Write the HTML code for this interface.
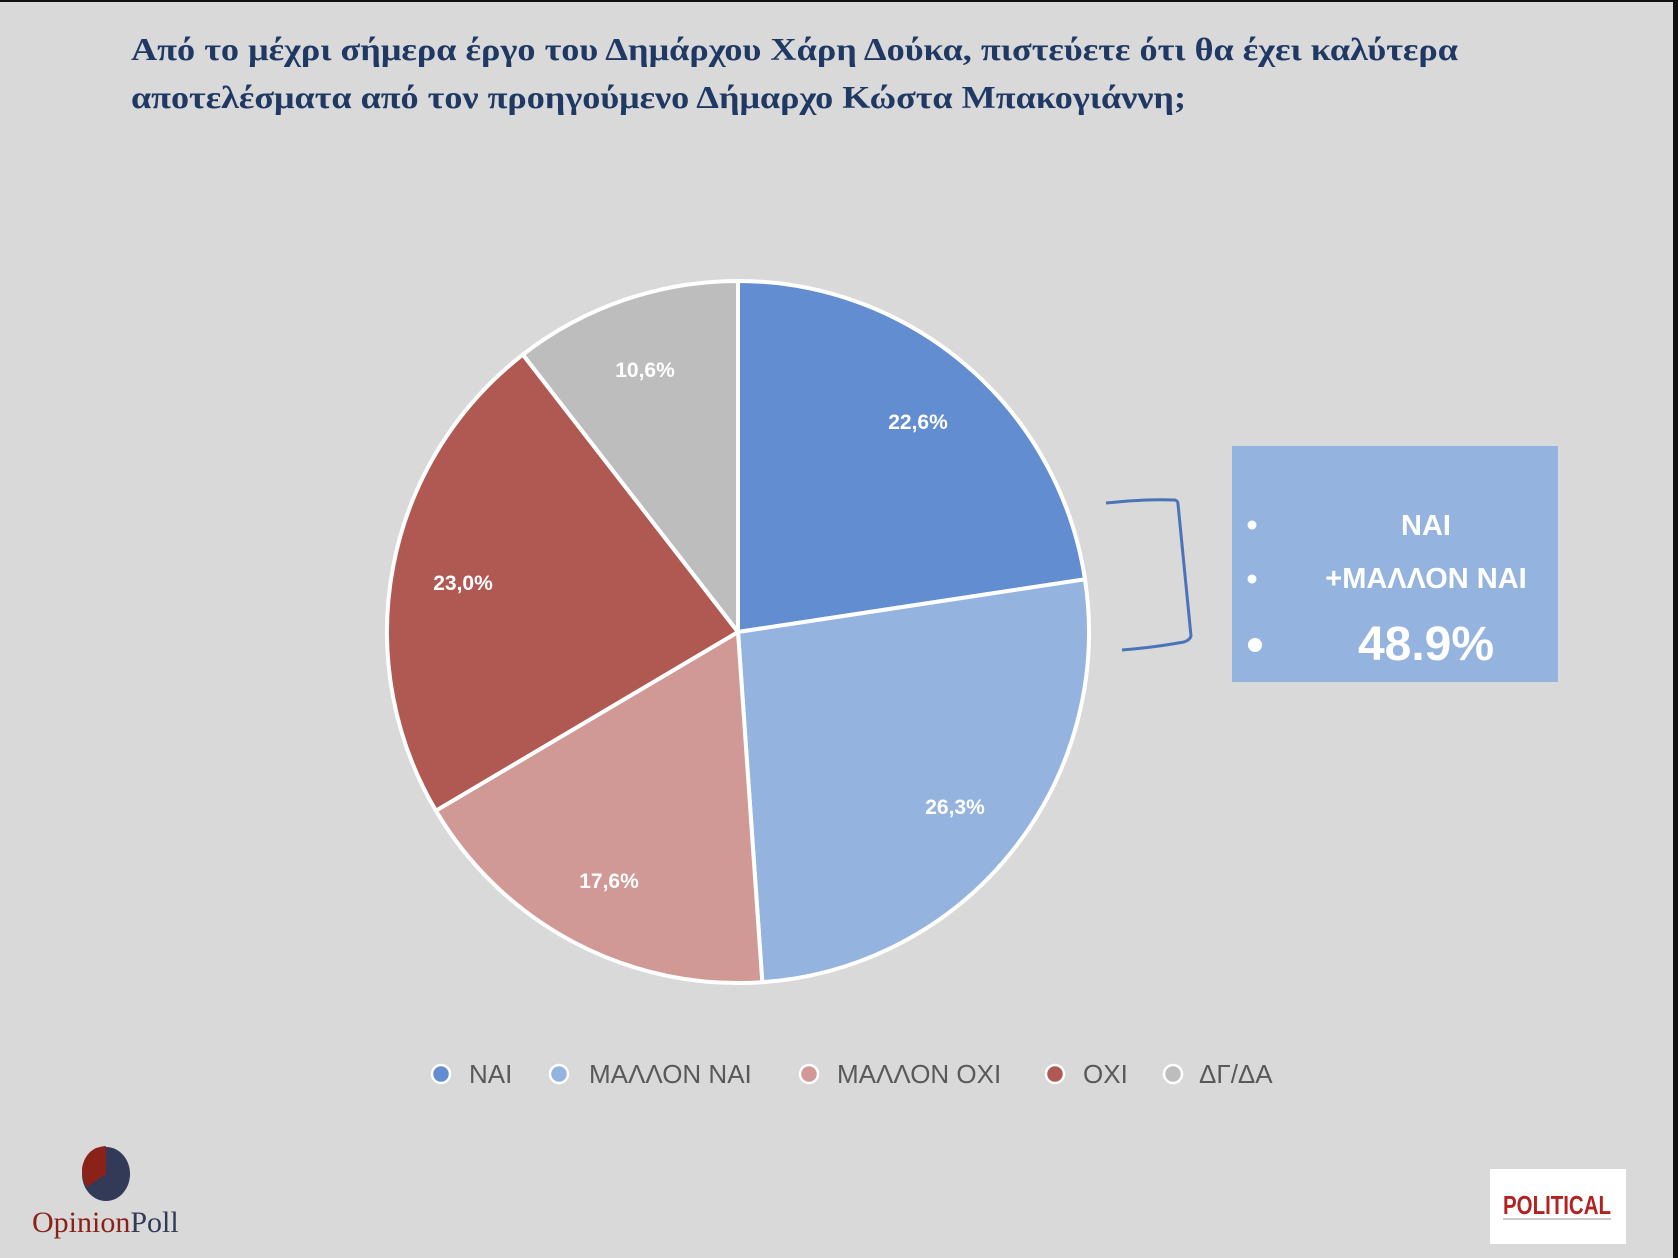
<!DOCTYPE html>
<html><head><meta charset="utf-8"><style>
html,body{margin:0;padding:0;background:#d9d9d9;}
svg{display:block;}
</style></head><body>
<svg width="1678" height="1258" viewBox="0 0 1678 1258" xmlns="http://www.w3.org/2000/svg">
<rect width="1678" height="1258" fill="#d9d9d9"/>
<rect x="0" y="0" width="1678" height="2" fill="#111"/>
<rect x="1673" y="0" width="5" height="1258" fill="#111"/>
<g font-family="Liberation Serif, serif" font-weight="bold" font-size="32" fill="#1f3864">
<text x="131" y="60" textLength="1327" lengthAdjust="spacingAndGlyphs">Από το μέχρι σήμερα έργο του Δημάρχου Χάρη Δούκα, πιστεύετε ότι θα έχει καλύτερα</text>
<text x="131" y="108" textLength="1055" lengthAdjust="spacingAndGlyphs">αποτελέσματα από τον προηγούμενο Δήμαρχο Κώστα Μπακογιάννη;</text>
</g>
<g stroke="#fff" stroke-width="4" stroke-linejoin="round">
<path d="M738,632 L738,281 A351,351 0 0 1 1085,579.3 Z" fill="#628dd0"/>
<path d="M738,632 L1085,579.3 A351,351 0 0 1 762.3,982.2 Z" fill="#95b3df"/>
<path d="M738,632 L762.3,982.2 A351,351 0 0 1 435.9,810.7 Z" fill="#d09995"/>
<path d="M738,632 L435.9,810.7 A351,351 0 0 1 522.9,354.6 Z" fill="#b05852"/>
<path d="M738,632 L522.9,354.6 A351,351 0 0 1 738,281 Z" fill="#bdbdbd"/>
</g>
<g font-family="Liberation Sans, sans-serif" font-weight="bold" font-size="21" fill="#fff" text-anchor="middle">
<text x="918" y="429">22,6%</text>
<text x="955" y="814">26,3%</text>
<text x="609" y="888">17,6%</text>
<text x="463" y="590">23,0%</text>
<text x="645" y="377">10,6%</text>
</g>
<path d="M1106,503 Q1140,499 1175,500 Q1178,501 1178,504 L1191,636 Q1190,640 1184,642 Q1150,648 1122,650" fill="none" stroke="#4a73b8" stroke-width="3"/>
<rect x="1232" y="446" width="326" height="236" fill="#95b3df"/>
<g fill="#fff">
<circle cx="1252" cy="525" r="4.5"/>
<circle cx="1252" cy="579" r="4.5"/>
<circle cx="1255" cy="645" r="7"/>
</g>
<g font-family="Liberation Sans, sans-serif" font-weight="bold" fill="#fff" text-anchor="middle">
<text x="1426" y="535" font-size="29">ΝΑΙ</text>
<text x="1426" y="588" font-size="29">+ΜΑΛΛΟΝ ΝΑΙ</text>
<text x="1426" y="660" font-size="48">48.9%</text>
</g>
<g stroke="#fff" stroke-width="2.5">
<circle cx="441" cy="1074" r="9" fill="#628dd0"/>
<circle cx="559" cy="1074" r="9" fill="#95b3df"/>
<circle cx="809" cy="1074" r="9" fill="#d09995"/>
<circle cx="1055" cy="1074" r="9" fill="#b05852"/>
<circle cx="1173" cy="1074" r="9" fill="#bdbdbd"/>
</g>
<g font-family="Liberation Sans, sans-serif" font-size="26" fill="#595959">
<text x="469" y="1083">ΝΑΙ</text>
<text x="589" y="1083">ΜΑΛΛΟΝ ΝΑΙ</text>
<text x="837" y="1083">ΜΑΛΛΟΝ ΟΧΙ</text>
<text x="1083" y="1083">ΟΧΙ</text>
<text x="1199" y="1083">ΔΓ/ΔΑ</text>
</g>
<ellipse cx="106" cy="1174" rx="24" ry="27" fill="#323a58"/>
<path d="M106,1174 L106,1146 Q86,1147 82,1168 Q82,1180 87,1187 Z" fill="#8b2219"/>
<text x="32" y="1232" font-family="Liberation Serif, serif" font-size="30"><tspan fill="#8b2219">Opinion</tspan><tspan fill="#323a58">Poll</tspan></text>
<rect x="1490" y="1169" width="136" height="75" fill="#fff"/>
<text x="1557" y="1214" font-family="Liberation Sans, sans-serif" font-weight="bold" font-size="26" fill="#b22222" text-anchor="middle" textLength="108" lengthAdjust="spacingAndGlyphs">POLITICAL</text>
<rect x="1503" y="1218" width="108" height="2" fill="#ccc"/>
</svg>
</body></html>
